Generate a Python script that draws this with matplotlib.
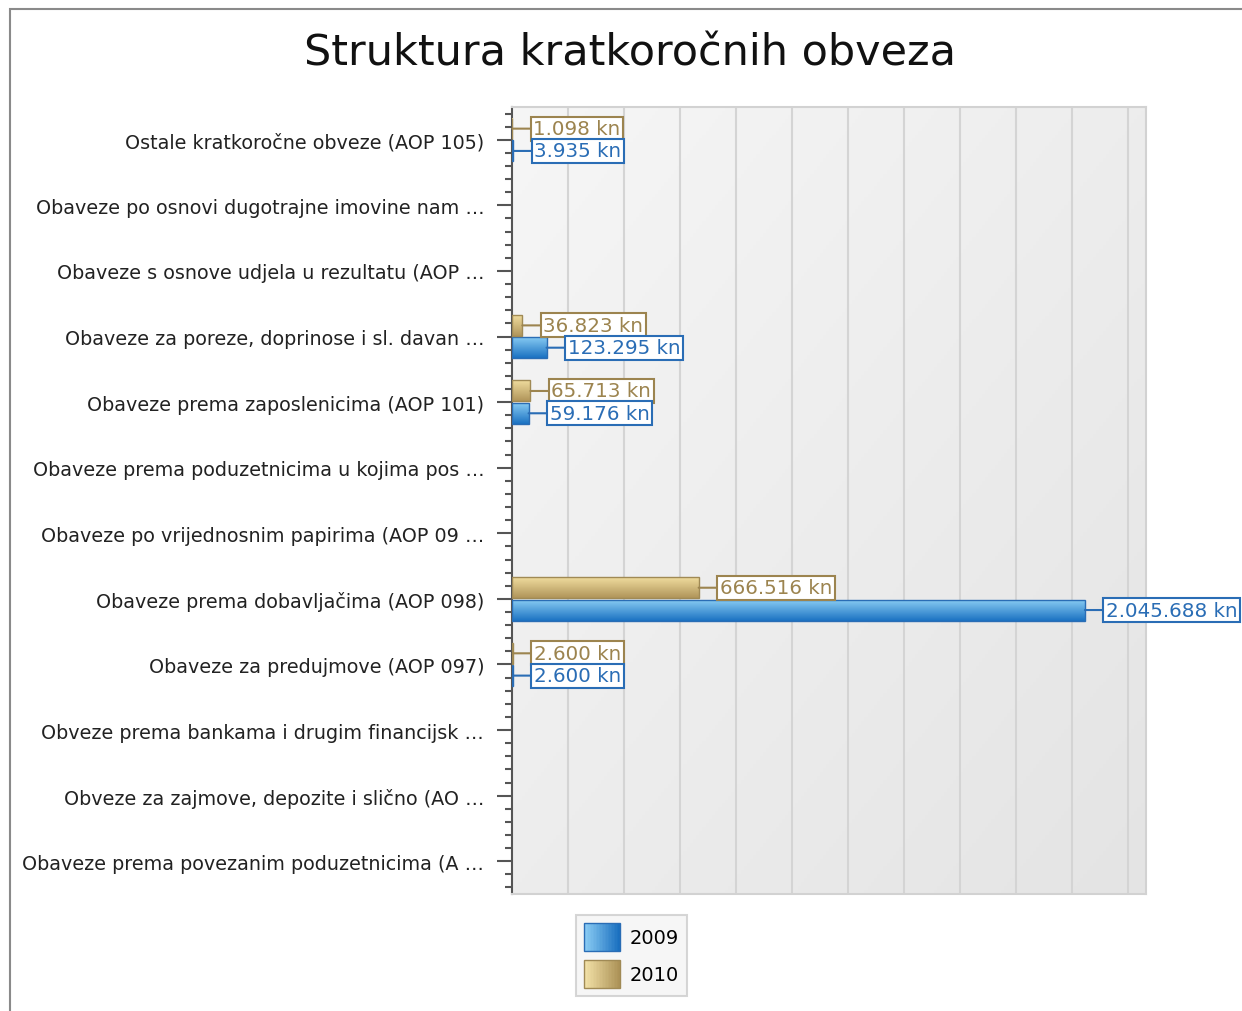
import numpy as np
import matplotlib
matplotlib.use("Agg")
import matplotlib.pyplot as plt
from matplotlib.patches import Patch, Rectangle
from matplotlib.colors import LinearSegmentedColormap
from matplotlib.legend_handler import HandlerBase
from matplotlib.ticker import MultipleLocator, FixedLocator

categories = [
    "Ostale kratkoročne obveze (AOP 105)",
    "Obaveze po osnovi dugotrajne imovine nam …",
    "Obaveze s osnove udjela u rezultatu (AOP …",
    "Obaveze za poreze, doprinose i sl. davan …",
    "Obaveze prema zaposlenicima (AOP 101)",
    "Obaveze prema poduzetnicima u kojima pos …",
    "Obaveze po vrijednosnim papirima (AOP 09 …",
    "Obaveze prema dobavljačima (AOP 098)",
    "Obaveze za predujmove (AOP 097)",
    "Obveze prema bankama i drugim financijsk …",
    "Obveze za zajmove, depozite i slično (AO …",
    "Obaveze prema povezanim poduzetnicima (A …",
]
values_2009 = [3935, 0, 0, 123295, 59176, 0, 0, 2045688, 2600, 0, 0, 0]
values_2010 = [1098, 0, 0, 36823, 65713, 0, 0, 666516, 2600, 0, 0, 0]
series_names = ["2009", "2010"]

plt.rcParams["font.family"] = ["DejaVu Sans"]

blue_top, blue_bot, blue_edge = "#86caf2", "#1b72c2", "#2a6db5"
gold_top, gold_bot, gold_edge = "#f0dc9e", "#b0955a", "#a08a55"
blue_text, gold_text = "#2a6db5", "#9c844f"

fig = plt.figure(figsize=(12.42, 10.12), dpi=100)
ax = fig.add_axes([512 / 1242, 117 / 1012, 634 / 1242, 787 / 1012])

# plot background gradient
bg = np.linspace(0, 1, 200)
bg = (bg[None, :] + bg[:, None]) / 2
bg_cmap = LinearSegmentedColormap.from_list("bg", ["#f6f6f6", "#e4e4e4"])
ax.imshow(bg, cmap=bg_cmap, extent=[0, 1, 0, 1], transform=ax.transAxes,
          aspect="auto", zorder=0, origin="upper")

y = np.arange(len(categories))
h = 0.32
off = 0.17


def gradient_bars(bars, top, bot):
    cmap = LinearSegmentedColormap.from_list("g", [top, bot])
    grad = np.linspace(0, 1, 64)[:, None]
    for b in bars:
        b.set_facecolor("none")
        b.set_zorder(4)
        if b.get_width() <= 0:
            b.set_linewidth(0)
            continue
        x0, y0 = b.get_x(), b.get_y()
        im = ax.imshow(grad, cmap=cmap, aspect="auto", origin="upper",
                       extent=[x0, x0 + b.get_width(), y0 + b.get_height(), y0],
                       zorder=3)
        im.set_clip_path(b)


bars09 = ax.barh(y + off, values_2009, height=h, color=blue_bot,
                 edgecolor=blue_edge, linewidth=1, zorder=3)
bars10 = ax.barh(y - off, values_2010, height=h, color=gold_bot,
                 edgecolor=gold_edge, linewidth=1, zorder=3)
gradient_bars(bars09, blue_top, blue_bot)
gradient_bars(bars10, gold_top, gold_bot)


def fmt(v):
    return f"{v:,}".replace(",", ".") + " kn"


for vals, dy, col in [(values_2010, -off, gold_text), (values_2009, off, blue_text)]:
    for yi, v in zip(y, vals):
        if v <= 0:
            continue
        ax.annotate(fmt(v), xy=(v, yi + dy), xytext=(21, 0),
                    textcoords="offset pixels", ha="left", va="center",
                    color=col, fontsize=14.3, zorder=6,
                    bbox=dict(boxstyle="square,pad=0.13", fc="white", ec=col, lw=1.5),
                    arrowprops=dict(arrowstyle="-", color=col, lw=1.5,
                                    shrinkA=0, shrinkB=0))

ax.set_xlim(0, 2264000)
ax.set_ylim(len(categories) - 0.5, -0.5)
ax.xaxis.set_major_locator(FixedLocator(np.arange(200000, 2200001, 200000)))
ax.tick_params(axis="x", length=0, labelbottom=False)
ax.grid(axis="x", color="#d4d4d4", lw=1.5, zorder=1)
ax.set_axisbelow(True)

ax.set_yticks(y)
ax.set_yticklabels(categories, fontsize=13.8, color="#222222")
ax.yaxis.set_minor_locator(MultipleLocator(0.2))
ax.tick_params(axis="y", which="major", length=11, width=1.5, color="#555555", pad=9)
ax.tick_params(axis="y", which="minor", length=5, width=1.5, color="#555555")

ax.spines["left"].set_color("#555555")
ax.spines["left"].set_linewidth(1.5)
for s in ["right", "bottom", "top"]:
    ax.spines[s].set_color("#d2d2d2")
    ax.spines[s].set_linewidth(1.5)

fig.text(630 / 1242, 1 - 54 / 1012, "Struktura kratkoročnih obveza",
         ha="center", va="center", fontsize=31, color="#111111")


class GradientHandler(HandlerBase):
    def __init__(self, left, right, edge):
        super().__init__()
        self.left, self.right, self.edge = left, right, edge

    def create_artists(self, legend, orig_handle, xdescent, ydescent,
                       width, height, fontsize, trans):
        cmap = LinearSegmentedColormap.from_list("lg", [self.left, self.right])
        n = 24
        arts = []
        for i in range(n):
            arts.append(Rectangle((-xdescent + width * i / n, -ydescent),
                                  width / n + 0.3, height, facecolor=cmap(i / (n - 1)),
                                  edgecolor="none", transform=trans))
        arts.append(Rectangle((-xdescent, -ydescent), width, height,
                              facecolor="none", edgecolor=self.edge, lw=1,
                              transform=trans))
        return arts


h09 = Patch(label=series_names[0])
h10 = Patch(label=series_names[1])
leg = fig.legend(handles=[h09, h10], loc="upper left",
                 bbox_to_anchor=(576 / 1242, 1 - 916 / 1012),
                 fontsize=14, frameon=True, fancybox=False,
                 handlelength=1.85, handleheight=1.84, handletextpad=0.48,
                 labelspacing=0.46, borderpad=0.41, borderaxespad=0,
                 handler_map={h09: GradientHandler("#8ccdf4", "#1a70c0", blue_edge),
                              h10: GradientHandler("#f3e2a8", "#ad9358", gold_edge)})
leg.get_frame().set_facecolor("#f4f4f4")
leg.get_frame().set_edgecolor("#cccccc")
leg.get_frame().set_linewidth(1.5)

# outer frame of the chart control
fig.add_artist(Rectangle((10 / 1242, -0.1), 2.0, 1.1 - 10 / 1012,
                         transform=fig.transFigure, fill=False,
                         edgecolor="#8a8a8a", lw=1.5))

fig.savefig("out.png", dpi=100)
